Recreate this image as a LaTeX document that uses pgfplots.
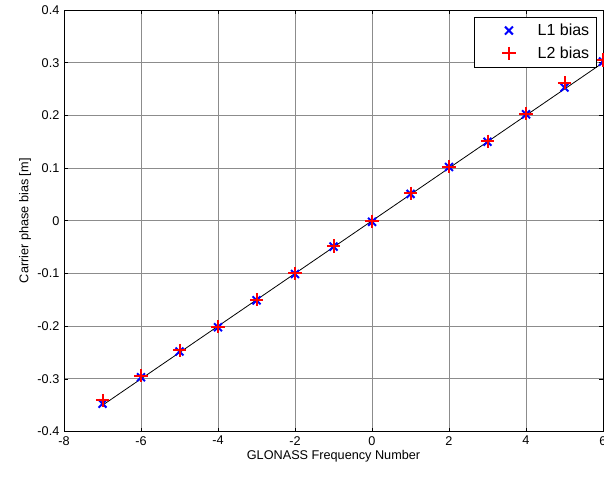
\documentclass[border=0pt]{standalone}
\usepackage{fontspec}
\setmainfont{Liberation Sans}
\usepackage{pgfplots}
\pgfplotsset{compat=1.18}
\usetikzlibrary{calc}

\begin{document}
\begin{tikzpicture}[font=\fontsize{9.5}{11}\selectfont]
\begin{axis}[
    scale only axis,
    width=404pt, height=316pt,
    xmin=-8, xmax=6, ymin=-0.4, ymax=0.4,
    xtick={-8,-6,...,6},
    ytick={-0.4,-0.3,...,0.4},
    yticklabels={-0.4,-0.3,-0.2,-0.1,0,0.1,0.2,0.3,0.4},
    xticklabels={-8,-6,-4,-2,0,2,4,6},
    grid=major,
    grid style={black!45, line width=0.6pt},
    axis line style={black, line width=0.7pt},
    tick style={black, line width=0.5pt},
    tick align=inside,
    major tick length=3pt,
    xlabel={GLONASS Frequency Number},
    ylabel={Carrier phase bias [m]},
    xlabel style={yshift=3pt},
    ylabel style={yshift=-2pt},
    legend style={
        at={(rel axis cs:1,1)}, anchor=north east,
        xshift=-5pt, yshift=-5pt,
        draw=black, line width=0.6pt,
        inner xsep=3pt, inner ysep=3pt,
        row sep=3pt,
        font=\fontsize{12}{13.5}\selectfont,
    },
    legend cell align=left,
    legend image code/.code={
        \path[draw=none] (0pt,0pt) -- (42.5pt,0pt);
        \draw[#1] plot coordinates {(23pt,0pt)};},
    clip=true,
]
\addplot[black, line width=0.6pt, forget plot] coordinates {(-7,-0.35) (6,0.30)};

\addplot[only marks, mark=x, mark size=4.2pt, blue, line width=1.5pt]
coordinates {
(-7,-0.347) (-6,-0.297) (-5,-0.248) (-4,-0.202) (-3,-0.151) (-2,-0.101)
(-1,-0.049) (0,-0.002) (1,0.051) (2,0.102) (3,0.150) (4,0.202)
(5,0.253) (6,0.302)
};
\addlegendentry{L1 bias}

\addplot[only marks, mark=+, mark size=5pt, red, line width=1.5pt]
coordinates {
(-7,-0.341) (-6,-0.294) (-5,-0.246) (-4,-0.201) (-3,-0.150) (-2,-0.100)
(-1,-0.048) (0,-0.001) (1,0.052) (2,0.103) (3,0.151) (4,0.203)
(5,0.262) (6,0.305)
};
\addlegendentry{L2 bias}
\end{axis}
\pgfresetboundingbox
\path[use as bounding box]
  ($(current axis.south west)+(-48pt,-36.75pt)$) rectangle
  ($(current axis.north east)+(0.75pt,7.5pt)$);
\end{tikzpicture}
\end{document}
